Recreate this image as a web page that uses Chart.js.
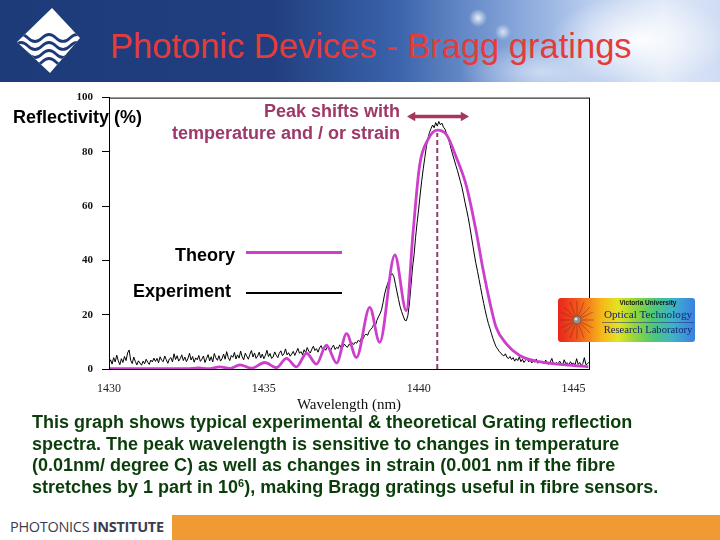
<!DOCTYPE html>
<html>
<head>
<meta charset="utf-8">
<script src="https://cdn.jsdelivr.net/npm/chart.js@4.4.0/dist/chart.umd.min.js"></script>
<style>
  body { margin: 0; width: 720px; height: 540px; overflow: hidden; background: #fff; position: relative;
         font-family: "Liberation Sans", Arial, sans-serif; }
  #header { position: absolute; left: 0; top: 0; width: 720px; height: 82px;
    background:
      radial-gradient(circle at 478px 18px, rgba(255,255,255,0.85) 0, rgba(255,255,255,0) 9px),
      radial-gradient(circle at 503px 32px, rgba(255,255,255,0.7) 0, rgba(255,255,255,0) 8px),
      radial-gradient(ellipse 90px 45px at 640px 40px, rgba(255,255,255,0.95) 0, rgba(255,255,255,0) 100%),
      radial-gradient(ellipse 80px 30px at 540px 72px, rgba(225,235,250,0.7) 0, rgba(225,235,250,0) 100%),
      linear-gradient(to right, #1d3a79 0%, #213f80 38%, #3a63ab 55%, #7e9fd6 70%, #b9cdee 82%, #dfe8f7 92%, #cfdcf3 100%);
  }
  #title { position: absolute; left: 110px; top: 26px; font-size: 34.5px; line-height: 40px; color: #e33c3a; white-space: nowrap; }
  #chartbox { position: absolute; left: 60px; top: 82px; width: 560px; height: 338px; }
  .lbl { position: absolute; font-weight: bold; font-size: 18px; line-height: 22px; white-space: nowrap; }
  #ylab { left: 13px; top: 106px; color: #000; }
  #peak { right: 320px; top: 100px; color: #9e3868; text-align: right; }
  #theoryLab { right: 485px; top: 244px; color: #000; }
  #expLab { left: 133px; top: 280px; color: #000; }
  .key { position: absolute; left: 246px; width: 96px; }
  #para { position: absolute; left: 32px; top: 412px; color: #0b3d0b; font-weight: bold; font-size: 18px; line-height: 21.7px; white-space: nowrap; }
  #para sup { font-size: 11px; line-height: 0; vertical-align: 6px; }
  #otrl { position: absolute; left: 558px; top: 298px; width: 137px; height: 44px; border-radius: 3px;
    background: linear-gradient(to right, #e8261d 0%, #f2561c 14%, #f6b81a 32%, #e3e322 44%, #93d63a 56%, #4cc77a 70%, #3eb2c9 84%, #3a7fe3 100%); }
  #otrl div { position: absolute; width: 100px; left: 40px; text-align: center; font-family: "Liberation Serif", serif; color: #1a2270; white-space: nowrap; }
  #footer { position: absolute; left: 10px; top: 517px; font-family: "Open Sans", sans-serif; font-size: 14.5px; color: #3a3d4e; letter-spacing: -0.3px; }
  #orange { position: absolute; left: 172px; top: 515px; width: 548px; height: 25px; background: #ef9a33; }
</style>
</head>
<body>
<div id="header">
  <svg width="100" height="82" style="position:absolute;left:0;top:0">
    <defs><clipPath id="dia"><polygon points="52,8 80,38 50,73 17,42"/></clipPath></defs>
    <polygon points="52,8 80,38 50,73 17,42" fill="#fff"/>
    <g clip-path="url(#dia)" fill="none" stroke="#1d3a79" stroke-width="2.6">
      <path d="M14 38 q7 -7 14 0 t14 0 t14 0 t14 0 t14 0"/>
      <path d="M14 46 q7 -7 14 0 t14 0 t14 0 t14 0 t14 0"/>
      <path d="M14 54 q7 -7 14 0 t14 0 t14 0 t14 0 t14 0"/>
      <path d="M14 62 q7 -7 14 0 t14 0 t14 0 t14 0 t14 0"/>
    </g>
  </svg>
  <div id="title">Photonic Devices - Bragg gratings</div>
</div>

<div id="chartbox"><canvas id="chart"></canvas></div>

<div class="lbl" id="ylab">Reflectivity (%)</div>
<div class="lbl" id="peak">Peak shifts with<br>temperature and / or strain</div>
<div class="lbl" id="theoryLab">Theory</div>
<div class="key" style="top:251px;height:3px;background:#cc3fcc"></div>
<div class="lbl" id="expLab">Experiment</div>
<div class="key" style="top:292px;height:2px;background:#000"></div>

<div id="otrl">
  <svg width="40" height="44" style="position:absolute;left:0;top:0">
    <g stroke="#7a2a10" stroke-width="0.6" opacity="0.8">
      <line x1="2" y1="22" x2="36" y2="22"/><line x1="19" y1="3" x2="19" y2="41"/>
      <line x1="6" y1="9" x2="32" y2="35"/><line x1="32" y1="9" x2="6" y2="35"/>
      <line x1="3" y1="14" x2="35" y2="30"/><line x1="3" y1="30" x2="35" y2="14"/>
      <line x1="12" y1="4" x2="26" y2="40"/><line x1="26" y1="4" x2="12" y2="40"/>
    </g>
    <circle cx="19" cy="22" r="4" fill="#9a8f86" stroke="#5a524c" stroke-width="0.6"/>
    <circle cx="18" cy="21" r="1.5" fill="#e8e2dc"/>
  </svg>
  <div style="top:1px;font-family:'Liberation Sans',sans-serif;font-weight:bold;font-size:6.5px;color:#111">Victoria University</div>
  <div style="top:10px;font-size:11.2px">Optical Technology</div>
  <div style="top:24px;left:44px;width:92px;height:1px;background:#1a2270;opacity:0.5"></div>
  <div style="top:26px;font-size:10.6px">Research Laboratory</div>
</div>

<div id="para">This graph shows typical experimental &amp; theoretical Grating reflection<br>spectra. The peak wavelength is sensitive to changes in temperature<br>(0.01nm/ degree C) as well as changes in strain (0.001 nm if the fibre<br>stretches by 1 part in 10<sup>6</sup>), making Bragg gratings useful in fibre sensors.</div>

<div id="footer">PHOTONICS <b>INSTITUTE</b></div>
<div id="orange"></div>

<script>
// wavelength axis ticks (nm) and reflectivity ticks (%)
const xTicks = [1430, 1435, 1440, 1445];
const yTicks = [0, 20, 40, 60, 80, 100];

// theory curve, read at its turning points
const theoryWl = [1430.0, 1431.0, 1432.0, 1432.5, 1432.9, 1433.2, 1433.58, 1433.9, 1434.23, 1434.6,
  1435.03, 1435.41, 1435.73, 1436.05, 1436.38, 1436.7, 1437.02, 1437.35, 1437.67, 1437.99,
  1438.42, 1438.74, 1439.23, 1439.6, 1439.82, 1440.03, 1440.3, 1440.6, 1440.9, 1441.2,
  1441.54, 1441.86, 1442.07, 1442.29, 1442.5, 1442.83, 1443.26, 1443.9, 1444.76, 1445.48];
const theoryR = [0.1, 0.1, 0.15, 0.1, 0.4, 0.1, 0.8, 0.2, 1.5, 0.3,
  2.4, 0.5, 3.9, 0.8, 5.8, 1.8, 8.8, 2.2, 13.0, 4.2,
  22.7, 9.8, 42.0, 21.5, 50.5, 75.0, 84.5, 88.0, 86.3, 78.4,
  67.5, 50.5, 37.2, 25.0, 15.4, 9.3, 5.0, 2.7, 1.5, 0.8];

// measured spectrum, one reading every 0.05 nm from 1430 nm
const expStart = 1430;
const expStep = 0.05;
const expR = [
  2.1, 3.4, 1.8, 4.2, 2.6, 5.1, 3.0, 1.6, 3.8, 2.4, 4.6, 3.1, 5.9, 7.0, 3.2, 2.0, 4.4, 2.8, 1.5, 3.0,
  2.2, 1.4, 2.9, 1.9, 3.6, 2.5, 1.7, 3.3, 2.6, 4.0, 2.8, 3.9, 2.3, 4.5, 3.2, 2.7, 4.8, 3.4, 2.1, 3.7,
  4.2, 2.6, 5.6, 3.5, 4.9, 2.9, 3.8, 5.2, 3.1, 4.4, 2.7, 3.9, 5.8, 3.3, 4.6, 2.5, 4.1, 3.4, 5.0, 2.8,
  3.6, 4.8, 2.4, 3.9, 5.3, 3.0, 4.5, 2.6, 5.7, 4.1, 3.2, 4.9, 2.9, 3.8, 5.5, 3.6, 6.4, 4.2, 3.1, 5.0,
  4.3, 6.1, 3.7, 5.2, 4.0, 6.6, 4.5, 3.4, 5.8, 4.7, 3.6, 5.4, 6.8, 4.4, 5.9, 3.9, 4.8, 6.2, 4.1, 5.5,
  3.8, 5.0, 6.9, 4.6, 5.7, 3.9, 4.4, 6.3, 5.1, 4.2, 5.8, 6.7, 4.9, 5.6, 7.4, 5.2, 6.0, 4.7, 5.5, 6.5,
  5.0, 6.3, 7.6, 5.8, 6.4, 5.2, 7.1, 6.0, 7.9, 6.6, 5.9, 7.3, 8.4, 6.8, 7.5, 6.2, 7.8, 8.6, 7.0, 7.7,
  6.9, 8.2, 7.4, 6.6, 7.9, 8.8, 7.2, 8.0, 7.5, 8.9, 7.6, 8.1, 9.2, 8.4, 8.0, 9.1, 8.6, 9.7, 9.0, 9.9,
  9.5, 10.6, 10.1, 11.4, 11.0, 12.3, 12.9, 12.4, 13.8, 14.6, 15.2, 16.5, 15.8, 17.9, 19.2, 20.3, 21.8, 24.5, 27.6, 29.8,
  31.5, 33.2, 34.6, 35.1, 34.0, 31.2, 28.4, 25.6, 23.0, 21.1, 19.5, 18.0, 17.8, 19.6, 24.0, 30.5, 37.2, 42.0, 48.5, 54.0,
  59.0, 64.5, 69.5, 74.0, 78.0, 82.0, 85.0, 87.2, 88.6, 89.9, 88.9, 90.8, 89.5, 91.2, 90.0, 90.6, 89.1, 88.4, 86.6, 85.0,
  83.2, 81.0, 78.9, 77.0, 75.0, 73.2, 71.1, 69.0, 66.8, 64.0, 61.2, 58.5, 55.8, 52.5, 49.0, 45.5, 42.0, 38.8, 36.0, 33.0,
  30.0, 27.0, 24.2, 21.5, 19.0, 16.8, 15.0, 13.0, 11.2, 9.6, 8.2, 7.4, 6.5, 5.9, 5.2, 4.8, 5.6, 4.3, 3.9, 4.6,
  3.5, 4.2, 2.9, 3.8, 3.1, 4.4, 2.7, 3.6, 2.4, 3.2, 4.0, 2.6, 3.4, 2.2, 3.0, 2.5, 3.7, 2.1, 2.9, 2.3,
  2.8, 1.9, 3.3, 2.2, 1.7, 2.6, 3.9, 2.0, 1.6, 2.4, 1.8, 2.9, 2.1, 1.5, 3.4, 1.9, 2.3, 1.4, 2.7, 1.8,
  2.2, 1.5, 3.8, 1.7, 2.4, 1.3, 2.0, 4.2, 1.6, 1.9, 2.5
];

// peak marker and shift arrow
const peakWl = 1440.6;
const peakTop = 87;
const arrowWl = [1439.8, 1441.45];
const arrowR = 93;

const xMin = 1430, xMax = 1445.5;

const framePlugin = {
    id: 'frame',
    afterDatasetsDraw(chart) {
        const { ctx, chartArea: a } = chart;
        ctx.save();
        ctx.strokeStyle = '#000';
        ctx.lineWidth = 1;
        ctx.strokeRect(a.left + 0.5, a.top + 0.5, a.right - a.left, a.bottom - a.top);
        ctx.restore();
    }
};

const expData = expR.map((r, i) => ({ x: expStart + i * expStep, y: r }));
const theoryData = theoryWl.map((w, i) => ({ x: w, y: theoryR[i] }));

new Chart(document.getElementById('chart'), {
    type: 'line',
    data: {
        datasets: [
            {
                label: 'Experiment',
                data: expData,
                borderColor: '#000',
                borderWidth: 1,
                pointRadius: 0,
                tension: 0,
                order: 3
            },
            {
                label: 'Theory',
                data: theoryData,
                borderColor: '#cc3fcc',
                borderWidth: 2.8,
                pointRadius: 0,
                cubicInterpolationMode: 'monotone',
                order: 2
            },
            {
                label: 'peak',
                data: [{ x: peakWl, y: 0 }, { x: peakWl, y: peakTop }],
                borderColor: '#8e3a6a',
                borderWidth: 2,
                borderDash: [5, 3],
                pointRadius: 0,
                order: 1
            },
            {
                label: 'shift',
                data: arrowWl.map(w => ({ x: w, y: arrowR })),
                borderColor: '#a3375f',
                backgroundColor: '#a3375f',
                borderWidth: 3.5,
                pointStyle: 'triangle',
                pointRadius: 5.5,
                pointRotation: [-90, 90],
                pointBorderWidth: 0,
                order: 0
            }
        ]
    },
    options: {
        responsive: true,
        maintainAspectRatio: false,
        animation: false,
        layout: { padding: { top: 12, right: 31, left: 0, bottom: 0 } },
        plugins: {
            legend: { display: false },
            tooltip: { enabled: false }
        },
        scales: {
            x: {
                type: 'linear',
                min: xMin,
                max: xMax,
                afterFit: s => { s.height = 51; },
                afterBuildTicks: s => { s.ticks = xTicks.map(v => ({ value: v })); },
                grid: { display: true, drawOnChartArea: false, drawTicks: false },
                border: { display: true, color: '#000', width: 1 },
                ticks: {
                    padding: 13,
                    color: '#222',
                    font: { family: '"Liberation Serif", serif', size: 12 },
                    callback: v => String(v)
                },
                title: {
                    display: true,
                    text: 'Wavelength (nm)',
                    color: '#111',
                    font: { family: '"Liberation Serif", serif', size: 15 },
                    padding: { top: 0, bottom: 6 }
                }
            },
            y: {
                min: 0,
                max: 100,
                afterFit: s => { s.width = 49; },
                afterBuildTicks: s => { s.ticks = yTicks.map(v => ({ value: v })); },
                grid: { display: true, drawOnChartArea: false, drawTicks: true, tickLength: 7, color: '#000' },
                border: { display: true, color: '#000', width: 1 },
                ticks: {
                    padding: 9,
                    color: '#111',
                    font: { family: '"Liberation Serif", serif', size: 11, weight: 'bold' }
                }
            }
        }
    },
    plugins: [framePlugin]
});
</script>
</body>
</html>
